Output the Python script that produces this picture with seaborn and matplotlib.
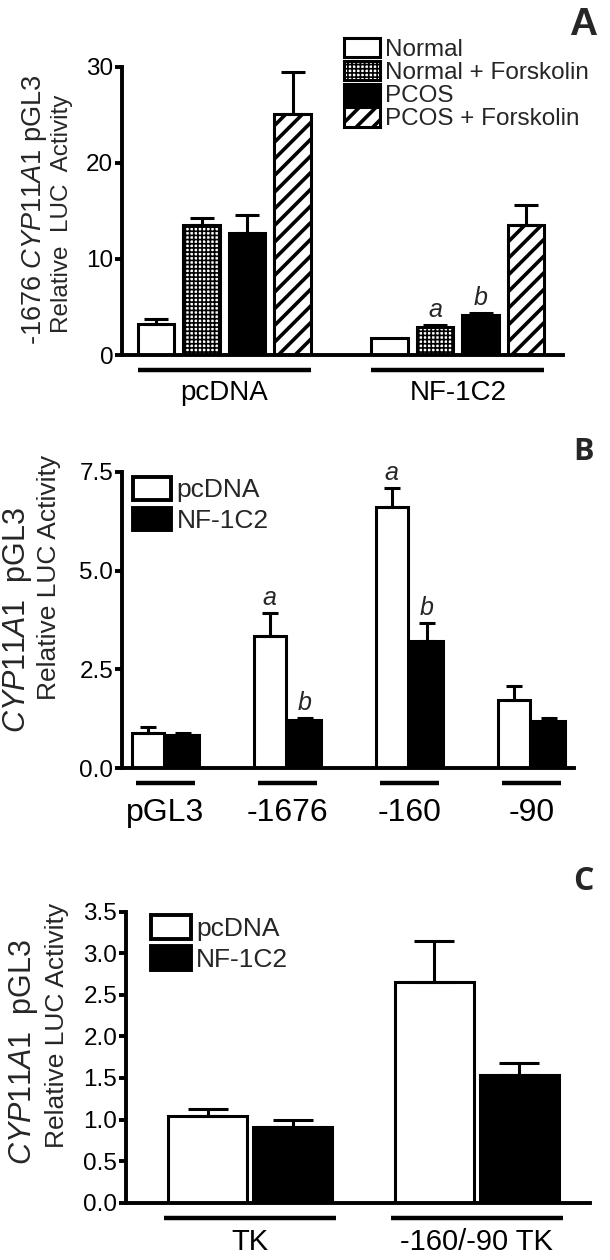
import matplotlib
matplotlib.use("Agg")
import matplotlib.pyplot as plt
import seaborn as sns
import pandas as pd
from matplotlib.patches import Patch

# ---------------- data ----------------
# Panel A
a_groups = ["pcDNA", "NF-1C2"]
a_conditions = ["Normal", "Normal + Forskolin", "PCOS", "PCOS + Forskolin"]
a_normal = [3.2, 1.8]
a_normal_fsk = [13.5, 2.95]
a_pcos = [12.7, 4.2]
a_pcos_fsk = [25.1, 13.5]
a_normal_err = [0.55, 0.0]
a_normal_fsk_err = [0.8, 0.15]
a_pcos_err = [1.9, 0.2]
a_pcos_fsk_err = [4.3, 2.1]
a_normal_lbl = ["", ""]
a_normal_fsk_lbl = ["", "a"]
a_pcos_lbl = ["", "b"]
a_pcos_fsk_lbl = ["", ""]
a_yticks = [0, 10, 20, 30]

# Panel B
b_groups = ["pGL3", "-1676", "-160", "-90"]
b_vectors = ["pcDNA", "NF-1C2"]
b_pcdna = [0.9, 3.35, 6.6, 1.73]
b_nf = [0.83, 1.22, 3.22, 1.19]
b_pcdna_err = [0.14, 0.57, 0.5, 0.35]
b_nf_err = [0.05, 0.06, 0.46, 0.09]
b_pcdna_lbl = ["", "a", "a", ""]
b_nf_lbl = ["", "b", "b", ""]
b_yticks = [0.0, 2.5, 5.0, 7.5]

# Panel C
c_groups = ["TK", "-160/-90 TK"]
c_vectors = ["pcDNA", "NF-1C2"]
c_pcdna = [1.04, 2.66]
c_nf = [0.906, 1.536]
c_pcdna_err = [0.09, 0.49]
c_nf_err = [0.094, 0.14]
c_pcdna_lbl = ["", ""]
c_nf_lbl = ["", ""]
c_yticks = [0.0, 0.5, 1.0, 1.5, 2.0, 2.5, 3.0, 3.5]

# ---------------- style ----------------
sns.set_theme(style="ticks")
plt.rcParams["font.family"] = ["Liberation Sans", "DejaVu Sans"]
plt.rcParams["mathtext.fontset"] = "custom"
plt.rcParams["mathtext.rm"] = "Liberation Sans"
plt.rcParams["mathtext.it"] = "Liberation Sans:italic"
plt.rcParams["hatch.linewidth"] = 2.6

W, H = 610, 1260
fig = plt.figure(figsize=(W / 100, H / 100), dpi=100)

LW = 2.8
HATCH_LW = {"": 1.0, "++++": 1.2, "//": 2.6}


def set_hlw(p, lw):
    if hasattr(p, "set_hatch_linewidth"):
        p.set_hatch_linewidth(lw)
    else:
        p._hatch_linewidth = lw


def make_df(groups, conds, values, errs, lbls):
    rows = []
    for c, vals, es, ls in zip(conds, values, errs, lbls):
        for g, v, e, l in zip(groups, vals, es, ls):
            rows.append({"group": g, "cond": c, "value": v, "err": e, "lbl": l})
    return pd.DataFrame(rows)


def panel(rect, df, groups, conds, palette, hatches, width, gap, capsize,
          ylim, yticks, yfmt, tickfs, catfs, line_y, line_hw, lab_y, xlim):
    ax = fig.add_axes(rect)
    sns.barplot(data=df, x="group", y="value", hue="cond", order=groups,
                hue_order=conds, palette=palette, edgecolor="black",
                linewidth=2.2, width=width, gap=gap, errorbar=None,
                legend=False, saturation=1, ax=ax)
    for cont, cond in zip(ax.containers, conds):
        sub = df[df["cond"] == cond].set_index("group").loc[groups]
        for bar, (_, row) in zip(cont.patches, sub.iterrows()):
            bar.set_hatch(hatches[cond])
            set_hlw(bar, HATCH_LW[hatches[cond]])
            bar.set_joinstyle("miter")
            x = bar.get_x() + bar.get_width() / 2
            top = bar.get_height()
            if row["err"] > 0:
                ax.errorbar([x], [top], yerr=[[0], [row["err"]]], fmt="none",
                            ecolor="black", elinewidth=2.2, capsize=capsize,
                            capthick=2.2, zorder=5)
            if row["lbl"]:
                ax.annotate(row["lbl"], (x, top + row["err"]),
                            xytext=(0, 2), textcoords="offset points",
                            ha="center", va="bottom", fontsize=18,
                            fontstyle="italic")
    ax.set_ylim(*ylim)
    ax.set_xlim(*xlim)
    ax.set_yticks(yticks)
    ax.set_yticklabels([yfmt.format(t) for t in yticks], fontsize=tickfs)
    ax.set_xticks([])
    ax.set_xlabel("")
    ax.set_ylabel("")
    sns.despine(ax=ax)
    for s in ["left", "bottom"]:
        ax.spines[s].set_linewidth(LW)
        ax.spines[s].set_color("black")
    ax.tick_params(axis="y", length=5, width=LW, pad=1, colors="black")
    tr = ax.get_xaxis_transform()
    for i, g in enumerate(groups):
        ax.plot([i - line_hw, i + line_hw], [line_y, line_y], transform=tr,
                color="black", lw=3.2, solid_capstyle="butt", clip_on=False)
        ax.text(i, lab_y, g, transform=tr, ha="center", va="center",
                fontsize=catfs, color="black")
    return ax


def fx(px):
    return px / W


def fy(py):
    return 1 - py / H


# ---------------- Panel A ----------------
dfA = make_df(a_groups, a_conditions,
              [a_normal, a_normal_fsk, a_pcos, a_pcos_fsk],
              [a_normal_err, a_normal_fsk_err, a_pcos_err, a_pcos_fsk_err],
              [a_normal_lbl, a_normal_fsk_lbl, a_pcos_lbl, a_pcos_fsk_lbl])
palA = {"Normal": "white", "Normal + Forskolin": "white",
        "PCOS": "black", "PCOS + Forskolin": "white"}
hatA = {"Normal": "", "Normal + Forskolin": "++++",
        "PCOS": "", "PCOS + Forskolin": "//"}
axA = panel([fx(121.5), fy(355), fx(563) - fx(121.5), (355 - 66.7) / H],
            dfA, a_groups, a_conditions, palA, hatA, 0.78, 0.2, 8.5,
            (0, 30), a_yticks, "{:d}", 17.5, 20, -0.052, 0.37, -0.132,
            (-0.44, 1.45))
handles = [Patch(facecolor=palA[c], edgecolor="black", hatch=hatA[c],
                 linewidth=2.2) for c in a_conditions]
legA = fig.legend(handles, a_conditions, loc="upper left",
                  bbox_to_anchor=(fx(344), fy(38)),
                  bbox_transform=fig.transFigure,
                  frameon=False, fontsize=17.5, handlelength=1.5,
                  handleheight=0.85, handletextpad=0.2, labelspacing=0.0,
                  borderpad=0, borderaxespad=0)
leg_handles = getattr(legA, "legend_handles", None) or legA.legendHandles
for h, c in zip(leg_handles, a_conditions):
    h.set_hatch(hatA[c])
    set_hlw(h, HATCH_LW[hatA[c]])
fig.text(fx(35), fy(210), r"-1676 $\mathit{CYP11A1}$ pGL3", rotation=90,
         ha="center", va="center", fontsize=19.5)
fig.text(fx(62), fy(214), "Relative  LUC  Activity", rotation=90,
         ha="center", va="center", fontsize=17.5)
fig.text(fx(583), fy(25), "A", ha="center", va="center", fontsize=28,
         fontweight="bold", family=["Liberation Sans Narrow", "Liberation Sans"])

# ---------------- Panel B ----------------
dfB = make_df(b_groups, b_vectors, [b_pcdna, b_nf], [b_pcdna_err, b_nf_err],
              [b_pcdna_lbl, b_nf_lbl])
palBC = {"pcDNA": "white", "NF-1C2": "black"}
hatBC = {"pcDNA": "", "NF-1C2": ""}
axB = panel([fx(121.5), fy(768.3), fx(574) - fx(121.5), (768.3 - 471.7) / H],
            dfB, b_groups, b_vectors, palBC, hatBC, 0.58, 0.1, 5.8,
            (0, 7.5), b_yticks, "{:.1f}", 17.5, 23, -0.0486, 0.24, -0.151,
            (-0.36, 3.35))
handles = [Patch(facecolor=palBC[c], edgecolor="black", linewidth=2.8,
                 joinstyle="round") for c in b_vectors]
fig.legend(handles, b_vectors, loc="upper left",
           bbox_to_anchor=(fx(132.5), fy(477)), bbox_transform=fig.transFigure,
           frameon=False, fontsize=19, handlelength=1.47, handleheight=0.95,
           handletextpad=0.2, labelspacing=0.2, borderpad=0,
           borderaxespad=0)
fig.text(fx(18), fy(620), r"$\mathit{CYP11A1}$  pGL3", rotation=90,
         ha="center", va="center", fontsize=22)
fig.text(fx(49), fy(577), "Relative LUC Activity", rotation=90,
         ha="center", va="center", fontsize=19)
fig.text(fx(583), fy(452), "B", ha="center", va="center", fontsize=22,
         fontweight="bold", family=["Open Sans", "DejaVu Sans"])

# ---------------- Panel C ----------------
dfC = make_df(c_groups, c_vectors, [c_pcdna, c_nf], [c_pcdna_err, c_nf_err],
              [c_pcdna_lbl, c_nf_lbl])
axC = panel([fx(125.5), fy(1202.7), fx(590) - fx(125.5), (1202.7 - 911.7) / H],
            dfC, c_groups, c_vectors, palBC, hatBC, 0.75, 0.07, 14.5,
            (0, 3.5), c_yticks, "{:.1f}", 17.5, 21, -0.0526, 0.38, -0.135,
            (-0.55, 1.50))
fig.legend(handles, c_vectors, loc="upper left",
           bbox_to_anchor=(fx(151), fy(915)), bbox_transform=fig.transFigure,
           frameon=False, fontsize=19, handlelength=1.5, handleheight=1.0,
           handletextpad=0.2, labelspacing=0.2, borderpad=0,
           borderaxespad=0)
fig.text(fx(24), fy(1052), r"$\mathit{CYP11A1}$  pGL3", rotation=90,
         ha="center", va="center", fontsize=22)
fig.text(fx(57), fy(1025), "Relative LUC Activity", rotation=90,
         ha="center", va="center", fontsize=19)
fig.text(fx(583), fy(882), "C", ha="center", va="center", fontsize=23,
         fontweight="bold", family=["Open Sans", "DejaVu Sans"])

fig.savefig("out.png", dpi=100)
